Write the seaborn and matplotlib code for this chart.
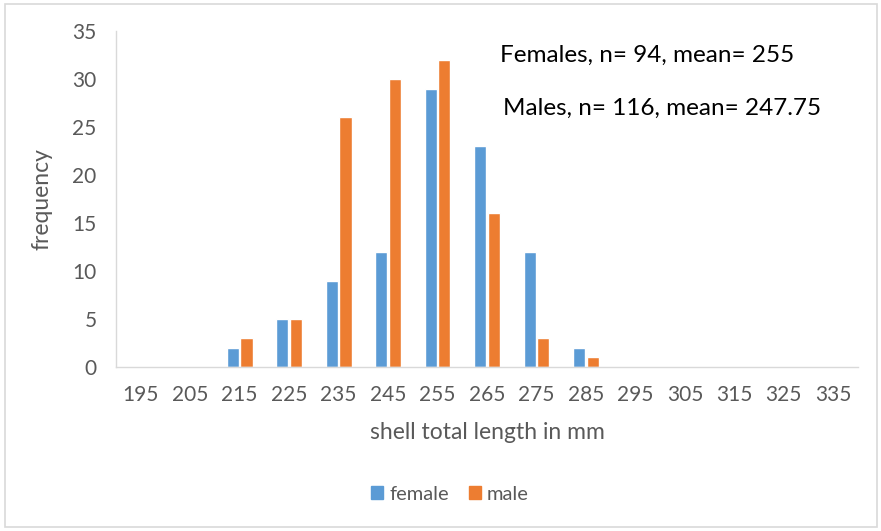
import matplotlib
matplotlib.use("Agg")
import matplotlib.pyplot as plt
import seaborn as sns
import pandas as pd
from matplotlib.patches import Rectangle

categories = ["195", "205", "215", "225", "235", "245", "255", "265", "275", "285",
              "295", "305", "315", "325", "335"]
female = [0, 0, 2, 5, 9, 12, 29, 23, 12, 2, 0, 0, 0, 0, 0]
male = [0, 0, 3, 5, 26, 30, 32, 16, 3, 1, 0, 0, 0, 0, 0]
series = ["female", "male"]
annotations = ["Females, n= 94, mean= 255", "Males, n= 116, mean= 247.75"]

df = pd.DataFrame({
    "length": categories * 2,
    "frequency": female + male,
    "sex": ["female"] * len(categories) + ["male"] * len(categories),
})

sns.set_theme(style="white")
plt.rcParams["font.family"] = ["Lato", "DejaVu Sans"]

fig = plt.figure(figsize=(8.81, 5.31), dpi=100)
ax = fig.add_axes([116 / 881, 1 - 367 / 531, (858 - 116) / 881, (367 - 31) / 531])

palette = {"female": "#5B9BD5", "male": "#ED7D31"}
sns.barplot(data=df, x="length", y="frequency", hue="sex", order=categories,
            hue_order=series, palette=palette, width=0.55, gap=0.1,
            saturation=1, ax=ax, legend=False)

ax.set_ylim(0, 35)
ax.set_yticks(range(0, 36, 5))
ax.set_xlim(-0.5, len(categories) - 0.5)
tc = "#595959"
ax.tick_params(axis="x", colors=tc, labelsize=15, length=0, pad=13)
ax.tick_params(axis="y", colors=tc, labelsize=15, length=0, pad=14)
for s in ["top", "right"]:
    ax.spines[s].set_visible(False)
ax.spines["left"].set_color("#D9D9D9")
ax.spines["bottom"].set_color("#D9D9D9")
ax.spines["left"].set_linewidth(1)
ax.spines["bottom"].set_linewidth(1)
ax.set_xlabel("shell total length in mm", fontsize=16.5, color=tc, labelpad=12)
ax.set_ylabel("frequency", fontsize=16.5, color=tc, labelpad=14)

fig.text(500 / 881, 1 - 55 / 531, annotations[0], fontsize=17.5, color="black",
         ha="left", va="center")
fig.text(503 / 881, 1 - 108 / 531, annotations[1], fontsize=17.5, color="black",
         ha="left", va="center")

handles = [Rectangle((0, 0), 1, 1, color=palette[s]) for s in series]
fig.legend(handles, series, loc="center", bbox_to_anchor=(450 / 881, 1 - 494 / 531),
           ncol=2, frameon=False, fontsize=14.5, labelcolor=tc, handlelength=0.6,
           handleheight=0.6, handletextpad=0.3, columnspacing=1.0)

fig.patches.append(Rectangle((5 / 881, 4 / 531), 872 / 881, 523 / 531,
                             transform=fig.transFigure, fill=False,
                             edgecolor="#D9D9D9", linewidth=1.2))

fig.savefig("out.png", dpi=100)
